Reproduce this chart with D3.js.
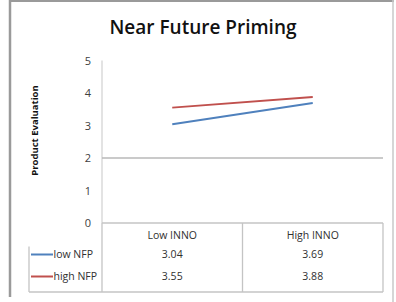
<!DOCTYPE html>
<html><head><meta charset="utf-8">
<script src="https://cdn.jsdelivr.net/npm/d3@7"></script>
<style>
html,body{margin:0;padding:0;background:#fff;}
svg{display:block;font-family:"Open Sans","Noto Sans",sans-serif;}
</style></head>
<body><svg id="c" width="396" height="302"></svg>
<script>
const categories = ["Low INNO", "High INNO"];
const seriesNames = ["low NFP", "high NFP"];
const lowNFP = [3.04, 3.69];
const highNFP = [3.55, 3.88];
const yTicks = [0, 1, 2, 3, 4, 5];
const seriesColors = ["#4F81BD", "#C0504D"];
const seriesValues = [lowNFP, highNFP];

const svg = d3.select("#c");
// outer frame
svg.append("line").attr("x1",10).attr("x2",10).attr("y1",0).attr("y2",297).attr("stroke","#9a9a9a").attr("stroke-width",2.5);
svg.append("line").attr("x1",9).attr("x2",394).attr("y1",1).attr("y2",1).attr("stroke","#9a9a9a").attr("stroke-width",2);
svg.append("line").attr("x1",393).attr("x2",393).attr("y1",0).attr("y2",302).attr("stroke","#c8c8c8").attr("stroke-width",1.5);

const plotL = 102, plotR = 383;
const x = d3.scaleBand().domain(categories).range([plotL, plotR]);
const y = d3.scaleLinear().domain([0,5]).range([223, 60.5]);

svg.append("text").attr("x",203).attr("y",34).attr("text-anchor","middle")
  .attr("font-size",19).attr("font-weight",600).attr("fill","#111").text("Near Future Priming");

// y axis line
svg.append("line").attr("x1",plotL).attr("x2",plotL).attr("y1",y(5)).attr("y2",y(0)).attr("stroke","#d0d0d0").attr("stroke-width",1.2);
// gridline at 2
svg.append("line").attr("x1",plotL).attr("x2",plotR).attr("y1",y(2)).attr("y2",y(2)).attr("stroke","#b8b8b8").attr("stroke-width",1.3);

// tick labels
svg.selectAll(".yt").data(yTicks).enter().append("text")
  .attr("x",91).attr("y",d=>y(d)+4).attr("text-anchor","end")
  .attr("font-size",11).attr("fill","#404040").text(d=>d);

// y title
svg.append("text").attr("transform","translate(38,130.5) rotate(-90)").attr("text-anchor","middle")
  .attr("font-size",9.5).attr("font-weight",700).attr("fill","#111").text("Product Evaluation");

// lines
const line = d3.line().x((d,i)=>x(categories[i])+x.bandwidth()/2).y(d=>y(d));
seriesValues.forEach((vals,i)=>{
  svg.append("path").attr("d",line(vals)).attr("fill","none").attr("stroke",seriesColors[i]).attr("stroke-width",2);
});

// data table
const tTop = y(0), tBot = 292, tLeft = 29;
const rowY = [257.5, 279.5];
const tbl = svg.append("g");
const gc = "#c4c4c4";
tbl.append("line").attr("x1",plotL).attr("x2",plotR).attr("y1",tTop).attr("y2",tTop).attr("stroke",gc).attr("stroke-width",1.3);
tbl.append("line").attr("x1",tLeft).attr("x2",plotR).attr("y1",tBot).attr("y2",tBot).attr("stroke",gc).attr("stroke-width",1.3);
tbl.append("line").attr("x1",tLeft).attr("x2",tLeft).attr("y1",246.5).attr("y2",tBot).attr("stroke",gc).attr("stroke-width",1.3);
[plotL, x(categories[1]), plotR].forEach(xx=>{
  tbl.append("line").attr("x1",xx).attr("x2",xx).attr("y1",tTop).attr("y2",tBot).attr("stroke",gc).attr("stroke-width",1.3);
});
categories.forEach(c=>{
  tbl.append("text").attr("x",x(c)+x.bandwidth()/2).attr("y",239).attr("text-anchor","middle")
    .attr("font-size",10.5).attr("fill","#303030").text(c);
});
seriesValues.forEach((vals,i)=>{
  tbl.append("line").attr("x1",31).attr("x2",53).attr("y1",rowY[i]-3).attr("y2",rowY[i]-3)
    .attr("stroke",seriesColors[i]).attr("stroke-width",2);
  tbl.append("text").attr("x",53.5).attr("y",rowY[i]+0.5).attr("font-size",10.5).attr("fill","#303030").text(seriesNames[i]);
  vals.forEach((v,j)=>{
    tbl.append("text").attr("x",x(categories[j])+x.bandwidth()/2).attr("y",rowY[i]+0.5).attr("text-anchor","middle")
      .attr("font-size",10.5).attr("fill","#303030").text(v.toFixed(2));
  });
});
</script></body></html>
